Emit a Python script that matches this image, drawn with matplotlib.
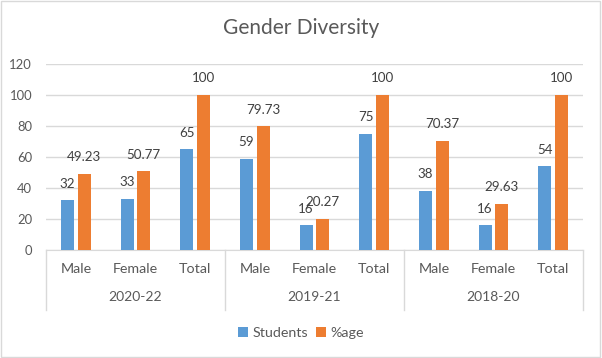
import numpy as np
import matplotlib.pyplot as plt
from matplotlib.patches import Rectangle
import matplotlib.transforms as mtransforms

# data
groups = ['2020-22', '2019-21', '2018-20']
categories = ['Male', 'Female', 'Total']
students = [32, 33, 65, 59, 16, 75, 38, 16, 54]
percentage = [49.23, 50.77, 100, 79.73, 20.27, 100, 70.37, 29.63, 100]
yticks = [0, 20, 40, 60, 80, 100, 120]

blue = '#5B9BD5'
orange = '#ED7D31'
grey_text = '#595959'
grid_col = '#D9D9D9'

plt.rcParams['font.family'] = ['Lato', 'DejaVu Sans']

fig = plt.figure(figsize=(6.02, 3.58), dpi=100)
fig.patches.append(Rectangle((0.002, 0.003), 0.995, 0.993, transform=fig.transFigure,
                             fill=False, edgecolor=grid_col, linewidth=1))

ax = fig.add_axes([0.0764, 0.3017, 0.892, 0.5196])

x = np.arange(len(students))
w = 0.22
b1 = ax.bar(x - 0.14, students, width=w, color=blue, label='Students', zorder=3)
b2 = ax.bar(x + 0.14, percentage, width=w, color=orange, label='%age', zorder=3)

# data labels above bars
for bars, vals in [(b1, students), (b2, percentage)]:
    for rect, v in zip(bars, vals):
        txt = f'{v:g}'
        ax.annotate(txt, (rect.get_x() + rect.get_width() / 2, rect.get_height()),
                    xytext=(0, 12), textcoords='offset points',
                    ha='center', va='center', fontsize=9.6, color='#404040')

ax.set_xlim(-0.5, len(students) - 0.5)
ax.set_ylim(0, 120)
ax.set_yticks(yticks)
ax.set_yticklabels([str(t) for t in yticks], fontsize=9.4, color=grey_text)
ax.tick_params(axis='y', length=0, pad=10)
ax.set_xticks([])
ax.grid(axis='y', color=grid_col, linewidth=1, zorder=0)
for s in ['top', 'right', 'left']:
    ax.spines[s].set_visible(False)
ax.spines['bottom'].set_color(grid_col)

# multi-level category axis
trans = mtransforms.blended_transform_factory(ax.transData, ax.transAxes)
for i in x:
    ax.text(i, -0.102, categories[i % 3], transform=trans, ha='center', va='center',
            fontsize=10.3, color=grey_text)
for g, name in enumerate(groups):
    ax.text(g * 3 + 1, -0.255, name, transform=trans, ha='center', va='center',
            fontsize=10, color=grey_text)
for g in range(len(groups) + 1):
    ax.plot([g * 3 - 0.5, g * 3 - 0.5], [0, -0.325], transform=trans, color=grid_col,
            linewidth=1, clip_on=False)

fig.text(0.5, 1 - 28 / 358, 'Gender Diversity', ha='center', va='center',
         fontsize=15, color=grey_text)

fig.legend(handles=[b1, b2], loc='center', bbox_to_anchor=(0.5, 1 - 333 / 358), ncol=2,
           frameon=False, fontsize=10.3, handlelength=0.7, handleheight=0.7,
           handletextpad=0.3, columnspacing=0.6, labelcolor=grey_text)

fig.savefig('out.png', dpi=100)
